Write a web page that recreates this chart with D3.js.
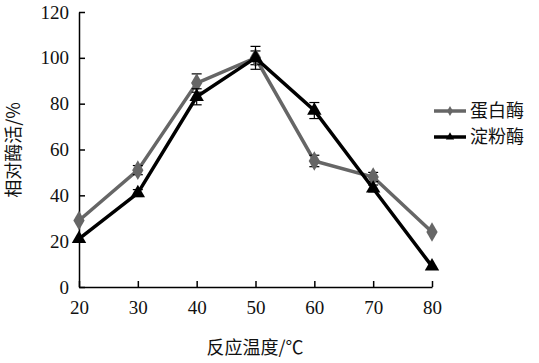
<!DOCTYPE html>
<html><head><meta charset="utf-8">
<script src="https://cdn.jsdelivr.net/npm/d3@7"></script>
<style>body{margin:0;background:#fff}</style>
</head><body>
<svg id="c" width="539" height="363"></svg>
<script>
const temps = [20, 30, 40, 50, 60, 70, 80];
const protease = [29, 51, 89, 100, 55, 48, 24];
const proteaseErr = [0, 2, 4, 3, 2.5, 2, 0];
const amylase = [21, 41, 83, 100, 77, 43, 9];
const amylaseErr = [0, 1.5, 3.5, 5, 3.5, 1.5, 0];
const xTicks = [20, 30, 40, 50, 60, 70, 80];
const yTicks = [0, 20, 40, 60, 80, 100, 120];
const seriesNames = ["蛋白酶", "淀粉酶"];

const svg = d3.select("#c");
const x = d3.scaleLinear().domain([20, 80]).range([79, 432]);
const y = d3.scaleLinear().domain([0, 120]).range([287, 12]);
const numFont = "'Liberation Serif','Times New Roman',serif";
const cjkFont = "'Noto Sans CJK SC',serif";

const xAxis = svg.append("g").attr("transform", `translate(0,${y(0)})`)
  .call(d3.axisBottom(x).tickValues(xTicks).tickSize(-6).tickSizeOuter(0).tickPadding(14));
const yAxis = svg.append("g").attr("transform", `translate(${x(20)},0)`)
  .call(d3.axisLeft(y).tickValues(yTicks).tickSize(-6).tickSizeOuter(0).tickPadding(10));
[xAxis, yAxis].forEach(a => {
  a.selectAll("path,line").attr("stroke", "#000").attr("stroke-width", 1.5);
  a.selectAll("text").attr("font-family", numFont).attr("font-size", 19).attr("fill", "#111");
});

const series = [
  {name: seriesNames[0], vals: protease, err: proteaseErr, color: "#666666", shape: d3.symbolDiamond},
  {name: seriesNames[1], vals: amylase, err: amylaseErr, color: "#000000", shape: d3.symbolTriangle}
];
const line = d3.line().x((d, i) => x(temps[i])).y(d => y(d));

series.forEach(s => {
  const g = svg.append("g");
  g.append("path").datum(s.vals).attr("d", line).attr("fill", "none")
    .attr("stroke", s.color).attr("stroke-width", 3.5);
  s.vals.forEach((v, i) => {
    const cx = x(temps[i]);
    const e = s.err[i];
    if (e > 0) {
      g.append("line").attr("x1", cx).attr("x2", cx).attr("y1", y(v + e)).attr("y2", y(v - e))
        .attr("stroke", "#000").attr("stroke-width", 1.2);
      [v + e, v - e].forEach(w => g.append("line").attr("x1", cx - 5).attr("x2", cx + 5)
        .attr("y1", y(w)).attr("y2", y(w)).attr("stroke", "#000").attr("stroke-width", 1.2));
    }
    g.append("path").attr("d", d3.symbol().type(s.shape).size(s.shape === d3.symbolDiamond ? 110 : 90)())
      .attr("transform", `translate(${cx},${y(v)})`).attr("fill", s.color);
  });
});

// legend
series.forEach((s, i) => {
  const ly = 111 + i * 26;
  svg.append("line").attr("x1", 434).attr("x2", 466).attr("y1", ly).attr("y2", ly)
    .attr("stroke", s.color).attr("stroke-width", 3.5);
  svg.append("path").attr("d", d3.symbol().type(s.shape).size(30)())
    .attr("transform", `translate(450,${ly})`).attr("fill", s.color);
  svg.append("text").attr("x", 470).attr("y", ly + 6).text(s.name)
    .attr("font-family", cjkFont).attr("font-size", 18).attr("fill", "#111");
});

svg.append("text").attr("x", 255).attr("y", 354).attr("text-anchor", "middle")
  .attr("font-family", cjkFont).attr("font-size", 18).attr("fill", "#111").text("反应温度/℃");
svg.append("text").attr("transform", "translate(20,150) rotate(-90)").attr("text-anchor", "middle")
  .attr("font-family", cjkFont).attr("font-size", 18).attr("fill", "#111").text("相对酶活/%");
</script>
</body></html>
